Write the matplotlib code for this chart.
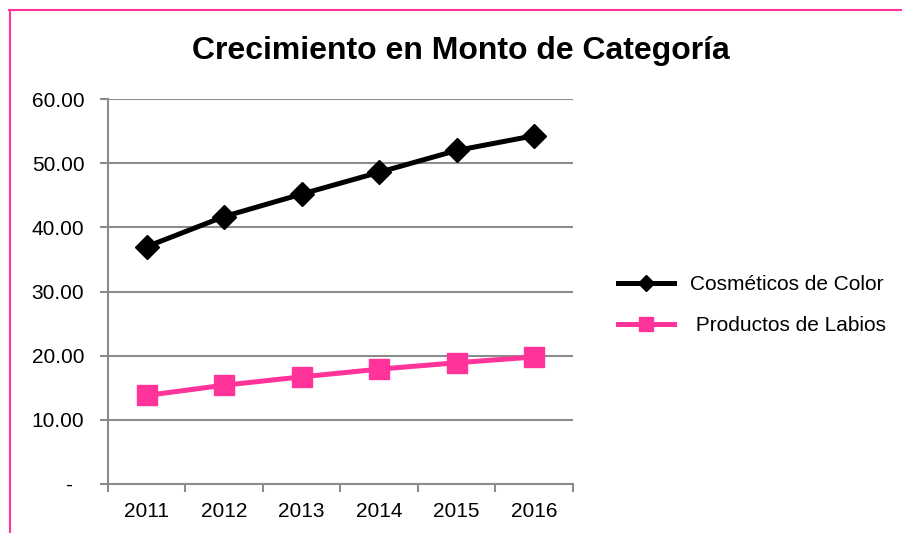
import numpy as np
import matplotlib.pyplot as plt
from matplotlib.lines import Line2D

plt.rcParams["font.family"] = ["Liberation Sans", "DejaVu Sans"]

years = ["2011", "2012", "2013", "2014", "2015", "2016"]
cosmeticos = [37.0, 41.7, 45.2, 48.6, 52.0, 54.3]
labios = [13.8, 15.4, 16.7, 17.9, 18.9, 19.8]
y_ticks = [0, 10, 20, 30, 40, 50, 60]

fig = plt.figure(figsize=(9.02, 5.33), dpi=100)
ax = fig.add_axes([0.1197, 0.092, 0.5155, 0.722])

x = np.arange(len(years))
ax.plot(x, cosmeticos, color="black", lw=3.6, marker="D", ms=12, label="Cosméticos de Color")
ax.plot(x, labios, color="#ff3399", lw=3.6, marker="s", ms=14, label=" Productos de Labios")

grid_c = "#8c8c8c"
ax.set_xlim(-0.5, len(years) - 0.5)
ax.set_ylim(0, 60)
ax.set_yticks(y_ticks)
ax.set_yticklabels(["-  " if v == 0 else "%.2f" % v for v in y_ticks])
ax.yaxis.grid(True, color=grid_c, lw=1.5)
ax.set_axisbelow(True)
ax.set_xticks(x)
ax.set_xticklabels(years)
ax.set_xticks(np.arange(-0.5, len(years)), minor=True)
ax.tick_params(axis="x", which="major", length=0, pad=13, labelsize=15)
ax.tick_params(axis="x", which="minor", length=6, color=grid_c, width=1.5)
ax.tick_params(axis="y", length=6, color=grid_c, width=1.5, pad=11, labelsize=15)
for s in ["top", "right"]:
    ax.spines[s].set_visible(False)
for s in ["left", "bottom"]:
    ax.spines[s].set_color(grid_c)
    ax.spines[s].set_linewidth(1.5)

fig.text(0.511, 0.905, "Crecimiento en Monto de Categoría", ha="center", va="center",
         fontsize=23, fontweight="bold")

fig.legend(loc="center left", bbox_to_anchor=(0.664, 0.428), frameon=False, fontsize=15,
           handlelength=2.7, labelspacing=1.05, handletextpad=0.75, markerscale=0.7)

# pink border of the chart area
pink = "#ff3399"
fig.add_artist(Line2D([9 / 902, 1], [1 - 9.5 / 533, 1 - 9.5 / 533], color=pink, lw=1.5,
                      transform=fig.transFigure))
fig.add_artist(Line2D([9.5 / 902, 9.5 / 902], [0, 1 - 9.5 / 533], color=pink, lw=1.5,
                      transform=fig.transFigure))

fig.savefig("out.png", dpi=100)
plt.close(fig)
